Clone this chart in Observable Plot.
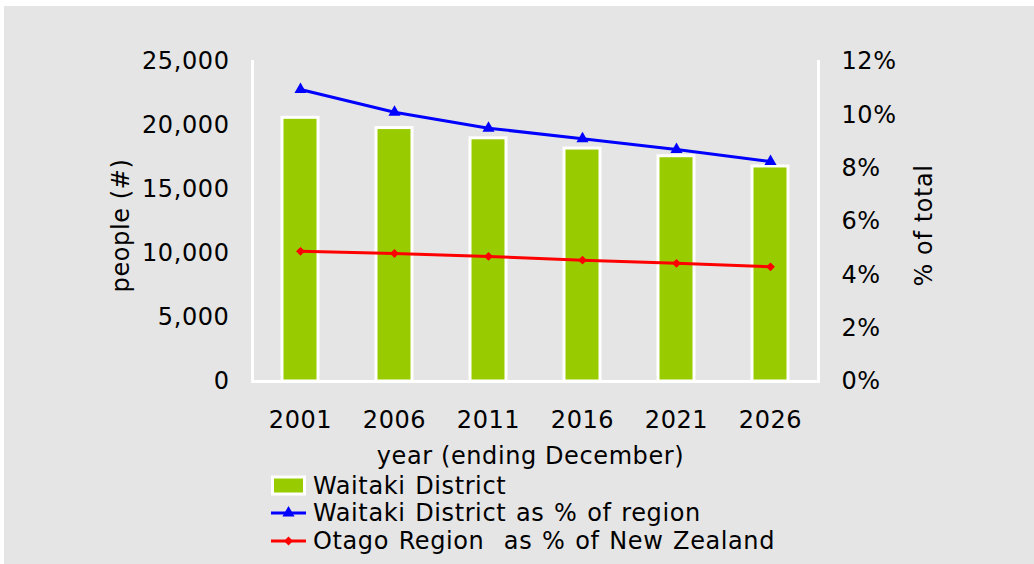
<!DOCTYPE html>
<html>
<head>
<meta charset="utf-8">
<script src="https://cdn.jsdelivr.net/npm/d3@7"></script>
<script src="https://cdn.jsdelivr.net/npm/@observablehq/plot@0.6"></script>
<style>
  html, body { margin: 0; padding: 0; background: #ffffff; }
  #panel { position: absolute; left: 4px; top: 6px; width: 1030px; height: 558px; background: #e5e5e5; overflow: hidden;
           font-family: "DejaVu Sans", Verdana, sans-serif; }
  #chart svg { display: block; }
  #legend { position: absolute; left: 267px; top: 466px; font-size: 24px; letter-spacing: 0.6px; word-spacing: 1.5px; color: #000; }
  .row { display: flex; align-items: center; height: 27.5px; white-space: pre; }
  .row svg { display: block; margin-right: 7px; flex: none; }
</style>
</head>
<body>
<div id="panel">
  <div id="chart"></div>
  <div id="legend"></div>
</div>
<script>
// ---- data ----
const years = [2001, 2006, 2011, 2016, 2021, 2026];
const waitakiPopulation = [20600, 19800, 19000, 18200, 17600, 16800];
const waitakiShareOfRegion = [10.95, 10.1, 9.5, 9.1, 8.7, 8.25];
const otagoShareOfNZ = [4.88, 4.8, 4.69, 4.55, 4.43, 4.3];
const leftTicks = [0, 5000, 10000, 15000, 20000, 25000];
const rightTicks = [0, 2, 4, 6, 8, 10, 12];
const seriesNames = ["Waitaki District", "Waitaki District as % of region", "Otago Region  as % of New Zealand"];
const xTitle = "year (ending December)";
const yLeftTitle = "people (#)";
const yRightTitle = "% of total";

const leftMax = 25000, rightMax = 12;
const toLeft = p => p * leftMax / rightMax;

const rows = years.map((year, i) => ({
  year: String(year),
  pop: waitakiPopulation[i],
  share: waitakiShareOfRegion[i],
  otago: otagoShareOfNZ[i]
}));

const green = "#99cc00", blue = "#0000ff", red = "#ff0000";

const chart = Plot.plot({
  width: 1030,
  height: 466,
  marginLeft: 248,
  marginRight: 216,
  marginTop: 55,
  marginBottom: 91,
  style: { background: "transparent", fontFamily: "DejaVu Sans, Verdana, sans-serif", fontSize: "24px", color: "#000", letterSpacing: "0.6px" },
  x: { type: "band", domain: years.map(String), paddingInner: 0.62, paddingOuter: 0.31, axis: null },
  y: { domain: [0, leftMax], axis: null },
  marks: [
    Plot.barY(rows, { x: "year", y: "pop", fill: green, stroke: "white", strokeWidth: 3 }),
    Plot.frame({ anchor: "left", stroke: "white", strokeWidth: 3 }),
    Plot.frame({ anchor: "right", stroke: "white", strokeWidth: 3 }),
    Plot.frame({ anchor: "bottom", stroke: "white", strokeWidth: 3 }),
    Plot.line(rows, { x: "year", y: d => toLeft(d.share), stroke: blue, strokeWidth: 3 }),
    Plot.dot(rows, { x: "year", y: d => toLeft(d.share), symbol: "triangle", r: 4.5, fill: blue, stroke: "none" }),
    Plot.line(rows, { x: "year", y: d => toLeft(d.otago), stroke: red, strokeWidth: 3 }),
    Plot.dot(rows, { x: "year", y: d => toLeft(d.otago), symbol: "diamond2", r: 4, fill: red, stroke: "none" }),
    Plot.axisX({ tickSize: 0, tickPadding: 29, fontSize: 24, label: null }),
    Plot.axisY({ anchor: "left", ticks: leftTicks, tickFormat: d3.format(","), tickSize: 0, tickPadding: 23, fontSize: 24, label: null }),
    Plot.axisY({ anchor: "right", ticks: rightTicks.map(toLeft), tickFormat: v => Math.round(v * rightMax / leftMax) + "%", tickSize: 0, tickPadding: 23, fontSize: 24, label: null }),
    Plot.text([xTitle], { frameAnchor: "bottom", dx: -5, dy: 75, fontSize: 24, lineAnchor: "middle", textAnchor: "middle" }),
    Plot.text([yLeftTitle], { frameAnchor: "left", dx: -131, dy: 4, rotate: -90, fontSize: 24, lineAnchor: "middle", textAnchor: "middle" }),
    Plot.text([yRightTitle], { frameAnchor: "right", dx: 106, dy: 4, rotate: -90, fontSize: 24, lineAnchor: "middle", textAnchor: "middle" })
  ]
});
document.getElementById("chart").appendChild(chart);

// ---- legend (below the SVG) ----
const legend = d3.select("#legend");
const swatchW = 35, swatchH = 22;
const r1 = legend.append("div").attr("class", "row");
const s1 = r1.append("svg").attr("width", swatchW).attr("height", swatchH);
s1.append("rect").attr("x", 1.5).attr("y", 2).attr("width", 32).attr("height", 17).attr("fill", green).attr("stroke", "white").attr("stroke-width", 3);
r1.append("span").text(seriesNames[0]);

function lineRow(name, color, symbol, size) {
  const r = legend.append("div").attr("class", "row");
  const s = r.append("svg").attr("width", swatchW).attr("height", swatchH);
  s.append("line").attr("x1", 0).attr("x2", swatchW).attr("y1", swatchH / 2).attr("y2", swatchH / 2).attr("stroke", color).attr("stroke-width", 3);
  s.append("path").attr("d", d3.symbol(symbol, size)()).attr("transform", `translate(${swatchW / 2},${swatchH / 2})`).attr("fill", color);
  r.append("span").text(name);
}
lineRow(seriesNames[1], blue, d3.symbolTriangle, 64);
lineRow(seriesNames[2], red, d3.symbolDiamond2, 50);
</script>
</body>
</html>
